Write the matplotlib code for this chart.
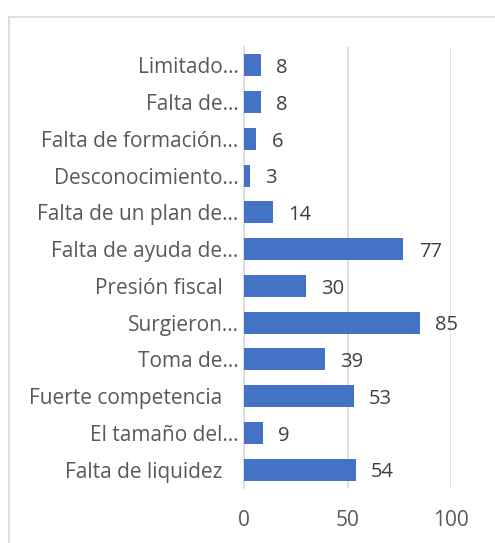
import matplotlib
matplotlib.use("Agg")
import matplotlib.pyplot as plt
from matplotlib.lines import Line2D

categories = ["Falta de liquidez   ", "El tamaño del…", "Fuerte competencia   ", "Toma de…",
              "Surgieron…", "Presión fiscal   ", "Falta de ayuda de…", "Falta de un plan de…",
              "Desconocimiento…", "Falta de formación…", "Falta de…", "Limitado…"]
values = [54, 9, 53, 39, 85, 30, 77, 14, 3, 6, 8, 8]
xticks = [0, 50, 100]

plt.rcParams['font.family'] = ['Open Sans', 'DejaVu Sans']

fig = plt.figure(figsize=(4.95, 5.43), dpi=100)
ax = fig.add_axes([244/495, 55/543, 207/495, 441/543])

ypos = list(range(len(categories)))
ax.barh(ypos, values, height=0.6, color="#4472C4", zorder=3)
ax.set_ylim(-0.5, len(categories) - 0.5)
ax.set_xlim(0, 100)
ax.set_xticks(xticks)
ax.set_yticks(ypos)
ax.set_yticklabels(categories)
ax.tick_params(axis='y', length=0, pad=4, labelsize=15, labelcolor="#595959")
ax.tick_params(axis='x', length=0, pad=16, labelsize=15, labelcolor="#595959")
ax.grid(axis='x', color="#d9d9d9", linewidth=1.2, zorder=0)
for s in ["top", "right", "bottom"]:
    ax.spines[s].set_visible(False)
ax.spines["left"].set_color("#d9d9d9")
ax.spines["left"].set_linewidth(1.2)

for y, v in zip(ypos, values):
    ax.annotate(str(v), (v, y), xytext=(11, -2), textcoords="offset points",
                ha="left", va="center", fontsize=14.5, color="#404040")

fig.add_artist(Line2D([8.5/495, 1], [1 - 17/543, 1 - 17/543], transform=fig.transFigure,
                      color="#d9d9d9", linewidth=1.2))
fig.add_artist(Line2D([8.5/495, 8.5/495], [0, 1 - 17/543], transform=fig.transFigure,
                      color="#d9d9d9", linewidth=1.2))

fig.savefig("out.png", dpi=100)
